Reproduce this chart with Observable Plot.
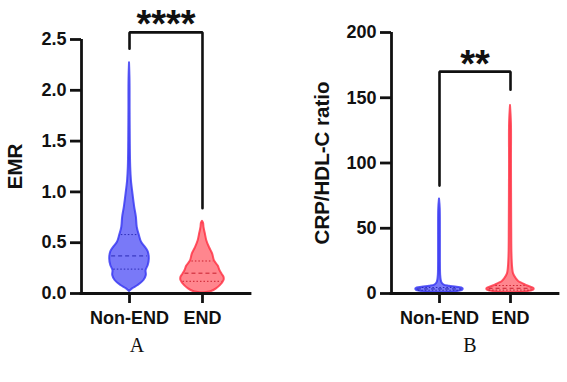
<!DOCTYPE html>
<html>
<head>
<meta charset="utf-8">
<script src="https://cdn.jsdelivr.net/npm/d3@7"></script>
<script src="https://cdn.jsdelivr.net/npm/@observablehq/plot@0.6"></script>
<style>
  body { margin: 0; background: #fff; }
  #fig { position: relative; width: 567px; height: 382px; background: #fff; overflow: hidden; }
  #fig > svg { position: absolute; top: 0; }
  .tag { position: absolute; top: 335px; font-family: "Liberation Serif", "Times New Roman", serif;
         font-size: 20px; line-height: 1; transform: translateX(-50%); color: #111; }
</style>
</head>
<body>
<div id="fig"></div>
<script>
const groups = ["Non-END", "END"];

// EMR: violin outline as (value, relative density) for each group
const emrNonEndValue   = [0.02, 0.046, 0.079, 0.128, 0.177, 0.226, 0.276, 0.34, 0.41, 0.456, 0.505, 0.57, 0.65, 0.75, 0.85, 0.98, 1.11, 1.24, 1.5, 1.8, 2.1, 2.27];
const emrNonEndDensity = [0, 0.14, 0.40, 0.67, 0.78, 0.77, 0.87, 0.92, 0.87, 0.73, 0.56, 0.46, 0.36, 0.32, 0.24, 0.16, 0.09, 0.056, 0.037, 0.028, 0.023, 0];
const emrEndValue      = [0.005, 0.02, 0.046, 0.08, 0.128, 0.16, 0.19, 0.226, 0.27, 0.32, 0.39, 0.45, 0.52, 0.59, 0.65, 0.69, 0.71];
const emrEndDensity    = [0, 0.42, 0.65, 0.84, 1.0, 1.0, 0.91, 0.81, 0.73, 0.56, 0.47, 0.33, 0.2, 0.13, 0.07, 0.05, 0];
// EMR quartiles: [Q1, median, Q3]
const emrNonEndQuartiles = [0.24, 0.37, 0.58];
const emrEndQuartiles    = [0.12, 0.20, 0.32];
const emrTicks = [0, 0.5, 1.0, 1.5, 2.0, 2.5];

// CRP/HDL-C ratio: violin outline as (value, relative density) for each group
const crpNonEndValue   = [0.6, 1.0, 1.8, 2.8, 3.8, 4.8, 5.6, 6.5, 8, 10, 14, 25, 45, 65, 72.5];
const crpNonEndDensity = [0, 0.56, 0.88, 1.0, 1.0, 0.74, 0.42, 0.2, 0.11, 0.075, 0.05, 0.04, 0.04, 0.032, 0];
const crpEndValue      = [0.5, 1.0, 1.8, 2.8, 3.8, 5, 6.2, 7.4, 9, 11.2, 15, 20, 30, 50, 100, 130, 144];
const crpEndDensity    = [0, 0.58, 0.86, 1.0, 1.0, 0.85, 0.67, 0.54, 0.36, 0.25, 0.13, 0.09, 0.062, 0.052, 0.042, 0.04, 0];
// CRP/HDL-C quartiles: [Q1, median, Q3]
const crpNonEndQuartiles = [2.5, 3.5, 4.6];
const crpEndQuartiles    = [2.6, 4.0, 6.1];
const crpTicks = [0, 50, 100, 150, 200];

// Significance brackets: [left leg end, bar level, right leg end]
const emrBracket = [2.41, 2.57, 0.84];
const crpBracket = [82.7, 170, 156.1];
const emrStars = "****";
const crpStars = "**";

const palette = [
  {fill: "#6262f7", stroke: "#3333f2", line: "#2b2bb5"},
  {fill: "#ff717a", stroke: "#ff2c3e", line: "#c8202e"}
];

function outline(values, density, i) {
  return values.map((v, k) => ({v, d: density[k], pos: i + 1}));
}

function quartileRows(q, values, density, i) {
  const dAt = d3.scaleLinear(values, density);
  return q.map((v, k) => ({v, d: dAt(v), pos: i + 1, kind: k === 1 ? "median" : "quartile"}));
}

function panel(o) {
  const lo = 1 - o.pad, hi = 2 + o.pad;
  const hw = o.halfWidth;
  const axisW = 2.8;
  const marks = [];
  o.violins.forEach((vl, i) => {
    const c = palette[i];
    marks.push(Plot.areaX(outline(vl.values, vl.density, i), {
      y: "v", x1: r => r.pos - r.d * hw, x2: r => r.pos + r.d * hw,
      curve: "catmull-rom", fill: c.fill, fillOpacity: 0.85,
      stroke: c.stroke, strokeOpacity: 0.8, strokeWidth: 2
    }));
    const q = quartileRows(vl.quartiles, vl.values, vl.density, i);
    marks.push(Plot.ruleY(q.filter(r => r.kind === "median"), {
      y: "v", x1: r => r.pos - r.d * hw + 0.02, x2: r => r.pos + r.d * hw - 0.02,
      stroke: c.line, strokeWidth: 1, strokeDasharray: "4,3"
    }));
    marks.push(Plot.ruleY(q.filter(r => r.kind === "quartile"), {
      y: "v", x1: r => r.pos - r.d * hw + 0.02, x2: r => r.pos + r.d * hw - 0.02,
      stroke: c.line, strokeWidth: 1, strokeDasharray: "1.5,2"
    }));
  });
  const b = o.bracket;
  marks.push(
    Plot.ruleX([lo], {y1: 0, y2: o.yMax, strokeWidth: axisW}),
    Plot.ruleY([0], {strokeWidth: axisW, strokeLinecap: "square"}),
    Plot.axisY({ticks: o.ticks, tickFormat: o.tickFormat, tickSize: 11, tickPadding: 4,
                strokeWidth: axisW, label: null, fontSize: 18}),
    Plot.axisX({ticks: [1, 2], tickFormat: d => groups[d - 1], tickSize: 10, tickPadding: 8,
                strokeWidth: axisW, label: null, fontSize: 18}),
    Plot.text([o.label], {frameAnchor: "left", textAnchor: "middle", dx: o.labelDx, rotate: -90, fontSize: 20.5}),
    Plot.line([[1, b[0]], [1, b[1]], [2, b[1]], [2, b[2]]], {
      x: d => d[0], y: d => d[1], strokeWidth: 2.6, strokeLinejoin: "miter"
    }),
    Plot.text([o.stars], {x: 1.5, y: b[1], dy: 5, lineAnchor: "bottom", fontSize: 38})
  );
  return Plot.plot({
    width: o.width, height: 382,
    marginLeft: o.marginLeft, marginRight: o.marginRight,
    marginTop: o.marginTop, marginBottom: 89,
    x: {domain: [lo, hi]},
    y: {domain: [0, o.yMax]},
    style: "font-family: 'Liberation Sans', Arial, sans-serif; font-size: 18px; font-weight: bold; color: #111; background: white; overflow: visible;",
    marks
  });
}

const fig = document.getElementById("fig");

const plotA = panel({
  width: 283, marginLeft: 81, marginRight: 33, marginTop: 39, pad: 0.658,
  yMax: 2.5, ticks: emrTicks, tickFormat: d3.format(".1f"), label: "EMR", labelDx: -66,
  halfWidth: 0.295, bracket: emrBracket, stars: emrStars,
  violins: [
    {values: emrNonEndValue, density: emrNonEndDensity, quartiles: emrNonEndQuartiles},
    {values: emrEndValue, density: emrEndDensity, quartiles: emrEndQuartiles}
  ]
});
plotA.style.left = "0px";
fig.appendChild(plotA);

const plotB = panel({
  width: 284, marginLeft: 108, marginRight: 9, marginTop: 32, pad: 0.676,
  yMax: 200, ticks: crpTicks, tickFormat: d3.format("d"), label: "CRP/HDL-C ratio", labelDx: -69,
  halfWidth: 0.33, bracket: crpBracket, stars: crpStars,
  violins: [
    {values: crpNonEndValue, density: crpNonEndDensity, quartiles: crpNonEndQuartiles},
    {values: crpEndValue, density: crpEndDensity, quartiles: crpEndQuartiles}
  ]
});
plotB.style.left = "283px";
fig.appendChild(plotB);

[["A", 137], ["B", 470]].forEach(([t, x]) => {
  const el = document.createElement("div");
  el.className = "tag";
  el.textContent = t;
  el.style.left = x + "px";
  fig.appendChild(el);
});
</script>
</body>
</html>
